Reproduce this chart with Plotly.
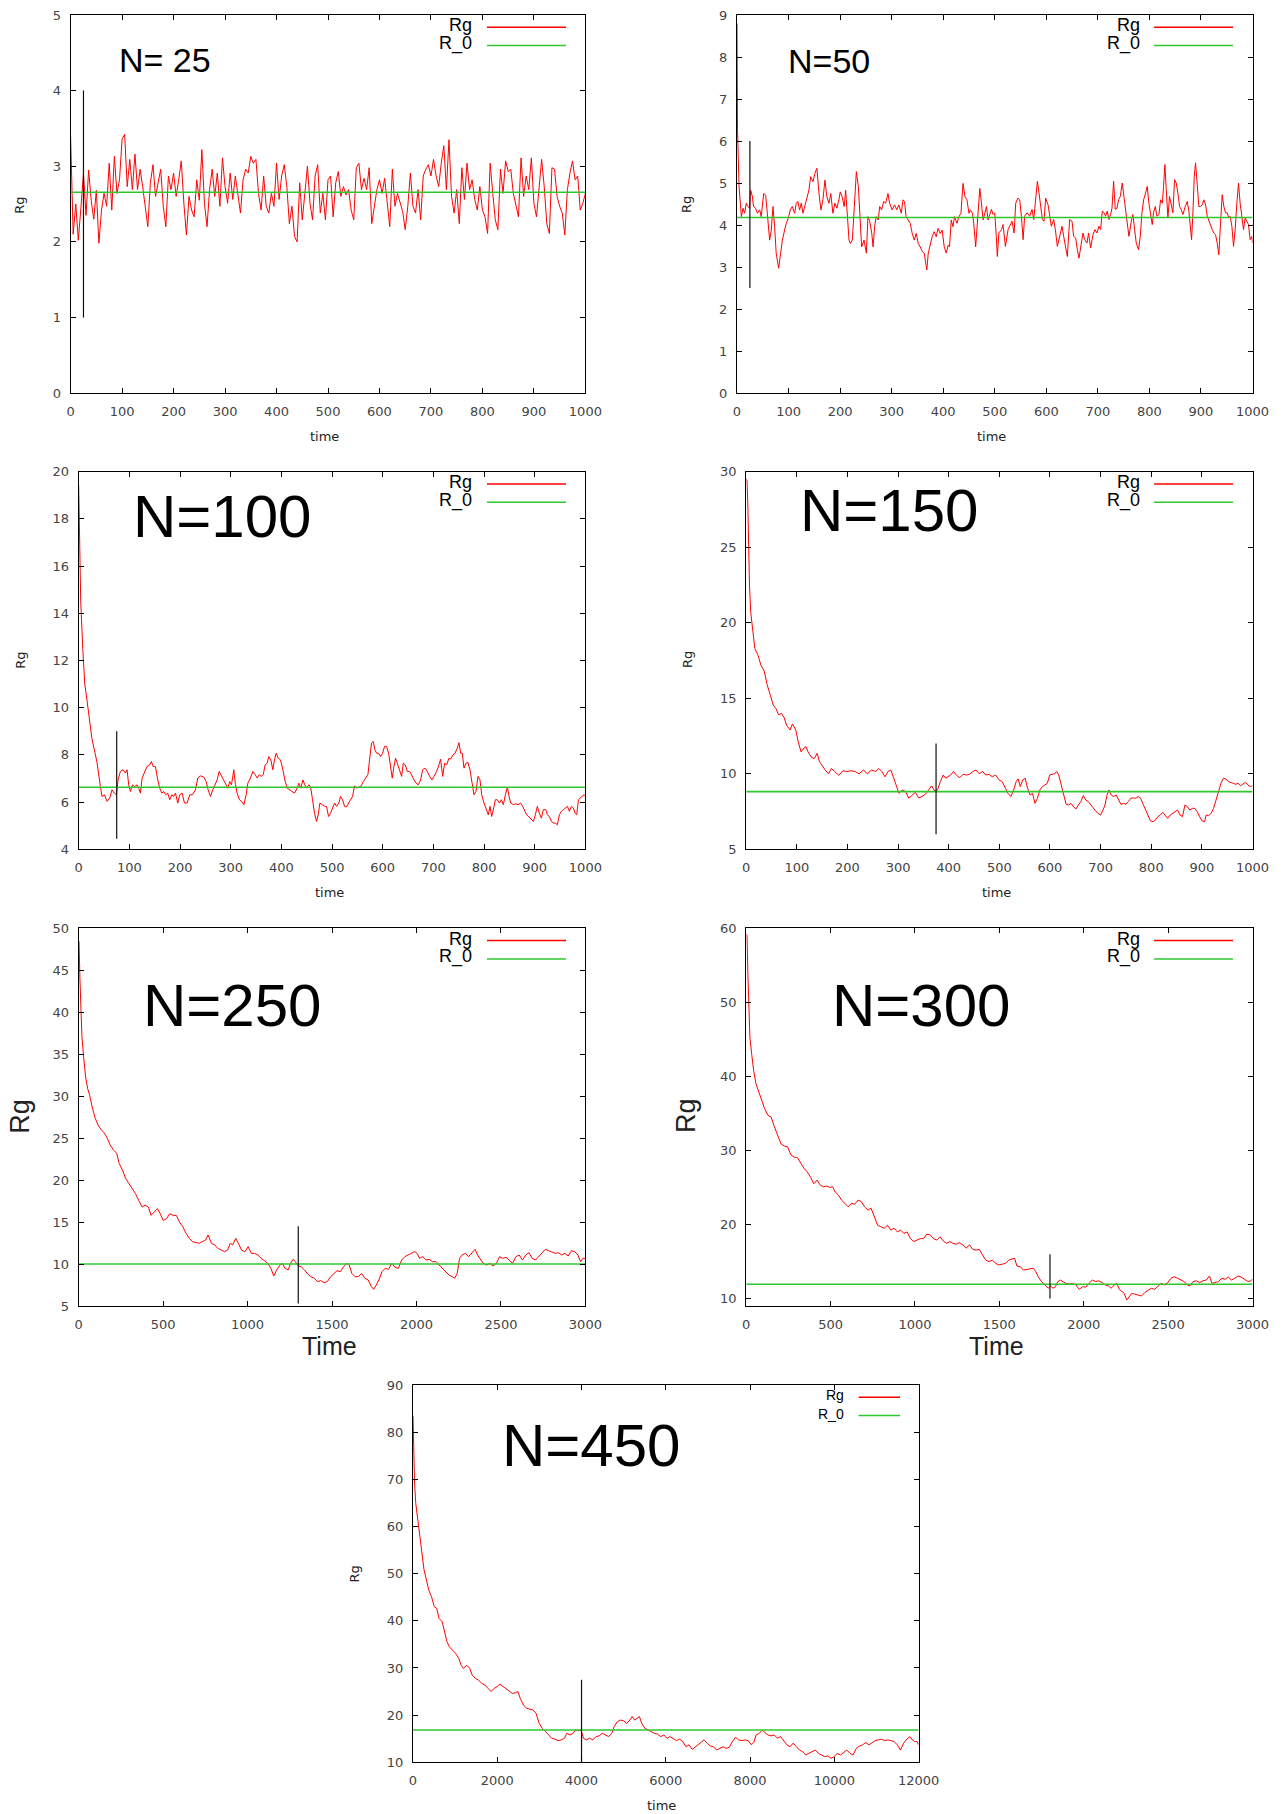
import plotly.graph_objects as go

W, H = 1283, 1814

# ---------------- data ----------------
N_LABELS = ["N= 25", "N=50", "N=100", "N=150", "N=250", "N=300", "N=450"]
X_TITLES = ["time", "time", "time", "time", "Time", "Time", "time"]
T_MAX = [1000, 1000, 1000, 1000, 3000, 3000, 12000]
R0 = [2.655, 4.18, 6.63, 8.82, 10.0, 11.93, 16.86]
EQ_T = [25, 25, 75, 375, 1300, 1800, 4000]
EQ_LO = [1.0, 2.5, 4.45, 6.0, 5.3, 10.0, 10.0]
EQ_HI = [4.0, 6.0, 9.0, 12.0, 14.5, 16.0, 27.5]
Y_MIN = [0, 0, 4, 5, 5, 9, 10]
Y_MAX = [5, 9, 20, 30, 50, 60, 90]
Y_DTICK = [1, 1, 2, 5, 5, 10, 10]
X_DTICK = [100, 100, 100, 100, 500, 500, 2000]

# N=25: Rg sampled every 5 time units, t = 0 ... 1000
RG_N25_STEP = 5
RG_N25 = [
    3.40, 2.10, 2.50, 2.02, 2.45, 2.90, 2.35, 2.95, 2.55, 2.30,
    2.68, 1.98, 2.42, 2.64, 2.47, 3.04, 2.42, 3.13, 2.64, 2.82,
    3.36, 3.42, 2.73, 3.09, 2.69, 3.16, 2.69, 2.96, 2.73, 2.42,
    2.20, 2.78, 3.02, 2.60, 2.80, 2.96, 2.47, 2.20, 2.87, 2.69,
    2.91, 2.60, 2.82, 3.07, 2.51, 2.09, 2.60, 2.42, 2.33, 2.82,
    2.55, 3.22, 2.51, 2.20, 2.69, 2.96, 2.60, 2.91, 2.47, 3.11,
    2.73, 2.51, 2.91, 2.56, 2.87, 2.60, 2.38, 2.82, 2.96, 2.91,
    3.13, 3.04, 3.09, 2.64, 2.42, 2.87, 2.47, 2.38, 2.64, 2.47,
    3.04, 2.56, 2.87, 3.02, 2.73, 2.24, 2.47, 2.07, 2.00, 2.78,
    2.29, 2.64, 3.00, 2.51, 2.29, 2.87, 3.02, 2.38, 2.64, 2.29,
    2.82,
    2.87, 2.33, 2.78, 2.93, 2.60, 2.73, 2.62, 2.69, 2.42, 2.29,
    2.98, 3.04, 2.69, 2.84, 2.69, 2.98, 2.24, 2.47, 2.69, 2.82,
    2.64, 2.84, 2.53, 2.20, 2.96, 2.47, 2.64, 2.51, 2.40, 2.16,
    2.47, 2.91, 2.47, 2.38, 2.69, 2.29, 2.87, 2.96, 3.02, 2.87,
    3.09, 2.87, 2.73, 3.04, 3.27, 2.69, 3.35, 2.60, 2.38, 2.69,
    2.24, 2.98, 2.56, 3.04, 2.69, 2.82, 2.56, 2.42, 2.73, 2.42,
    2.33, 2.11, 3.04, 2.64, 2.29, 2.16, 2.96, 2.64, 3.07, 2.93,
    2.96, 2.64, 2.47, 2.33, 3.11, 2.60, 2.87, 2.69, 3.11, 2.51,
    2.33, 2.69, 3.09, 2.73, 2.24, 2.11, 2.98, 2.96, 2.60, 2.47,
    2.38, 2.09, 2.69, 2.91, 3.07, 2.82, 2.87, 2.42, 2.51, 2.64,
]

# N=50: (time, Rg)
RG_N50 = [
    (0, 8.80), (1, 6.26), (4, 4.91), (6.5, 4.44), (8.5, 4.20), (11.6, 4.40), (14.9, 4.28),
    (18, 4.52), (21, 4.44), (24.5, 4.40), (26.5, 4.83), (30, 4.67), (32, 4.44), (36, 4.40),
    (39.6, 4.28), (44, 4.36), (47, 4.20), (51.7, 4.75), (55.6, 4.71), (58.8, 4.28), (63.3, 3.64),
    (66.5, 3.88), (69.8, 4.44), (73, 3.96), (76, 3.33), (80.8, 2.97), (84, 3.33), (88, 3.64),
    (92.4, 3.88), (95.6, 4.04), (99.5, 4.16), (103.4, 4.36), (107.3, 4.44), (111.8, 4.28),
    (115, 4.52), (118, 4.56), (121.4, 4.36), (124.7, 4.52), (128, 4.28), (131, 4.44),
    (135.7, 4.67), (139.5, 4.83), (142.8, 5.15), (147.3, 5.03), (151, 5.23), (155, 5.35),
    (159, 4.75), (162.8, 4.36), (166.7, 4.60), (170.6, 5.07), (174.4, 4.67), (178.3, 4.52),
    (182, 4.75), (186, 4.28), (190, 4.52), (193.8, 4.40), (197.7, 4.60), (200.3, 4.79),
    (204, 4.67), (208, 4.44), (210.8, 4.83), (213.4, 4.44), (217.3, 3.64), (219.8, 3.56),
    (223.7, 3.64), (227.6, 4.44), (231.5, 5.27), (235.4, 4.91), (238, 4.28), (241.8, 3.48),
    (246.4, 3.64), (251, 3.33), (254, 4.20), (257.5, 4.08), (261.4, 3.80), (264, 3.48),
    (267, 3.96), (270, 4.20), (274, 4.12), (276.8, 4.44), (280.6, 4.36), (284.5, 4.56),
    (288.4, 4.52), (292.9, 4.75), (296, 4.52), (301, 4.36), (305.6, 4.48), (310, 4.36),
    (314, 4.48), (318.7, 4.28), (322, 4.60), (325, 4.56), (328, 4.20), (332, 4.12), (336, 4.04),
    (339.9, 3.80), (343.8, 3.64), (347.7, 3.80), (351.6, 3.56), (355.4, 3.48), (359.3, 3.37),
    (363.2, 3.33), (365.8, 3.09), (368.2, 2.93), (371, 3.33), (374.7, 3.56), (378.6, 3.72),
    (382.5, 3.84), (386.4, 3.72), (390, 3.92), (394, 3.80), (398, 3.88), (402, 3.48),
    (405.8, 3.33), (409.7, 3.52), (412.3, 3.48), (415.6, 4.12), (418.9, 3.96), (422, 4.20),
    (426.7, 4.04), (430.6, 4.20), (434.5, 4.28), (438.4, 4.99), (442.3, 4.67), (446, 4.60),
    (450, 4.28), (452.7, 4.36), (456.6, 4.28), (459.2, 4.04), (463, 3.48), (467.7, 4.44),
    (471, 4.87), (474.2, 4.52), (477.4, 4.12), (480.7, 4.28), (484, 4.44), (487, 4.12),
    (490.6, 4.28), (493.5, 4.37), (496.8, 4.25), (500, 4.29), (503, 3.73), (505, 3.25),
    (508, 3.81), (513, 3.89), (516, 4.01), (520.7, 3.49), (525.8, 3.89), (530, 4.01),
    (533.6, 4.09), (537.5, 3.81), (540.7, 4.52), (545, 4.64), (548.4, 4.60), (551.7, 4.21),
    (555, 3.65), (558, 4.21), (562.6, 4.29), (567.8, 4.21), (572.3, 4.37), (575.6, 4.13),
    (578.8, 4.60), (582.7, 5.04), (585.9, 4.76), (589, 4.44), (592.4, 4.13), (595.6, 4.09),
    (598.8, 4.64), (603.4, 4.48), (606.6, 4.21), (609.8, 3.97), (614.3, 4.13), (617.6, 3.89),
    (621.4, 3.49), (626, 3.77), (630.5, 3.97), (633.7, 3.73), (637.6, 3.41), (640.8, 3.25),
    (645.3, 4.13), (649.9, 4.09), (653, 3.73), (657, 3.69), (660.2, 3.41), (663.4, 3.21),
    (668, 3.57), (671.2, 3.81), (674.4, 3.65), (678.9, 3.57), (682, 3.81), (686, 3.45),
    (690.6, 3.77), (694.4, 3.89), (698.3, 3.81), (702, 3.97), (705.4, 3.89), (708.6, 4.33),
    (712, 4.29), (715, 4.21), (718.3, 4.33), (721.6, 4.13), (724.8, 4.25), (727.4, 4.40),
    (730.6, 5.04), (733.8, 4.37), (737, 4.40), (740.3, 4.60), (743.5, 4.68), (747.4, 5.00),
    (750.6, 4.68), (753.9, 4.37), (757, 3.97), (760.3, 3.73), (764.9, 4.09), (768, 4.25),
    (771.3, 3.89), (774.5, 3.57), (779, 3.41), (782.3, 3.73), (785.5, 4.29), (788.8, 4.60),
    (792.6, 4.76), (795.8, 4.92), (799, 4.52), (802.3, 4.21), (805.5, 4.01), (808, 4.29),
    (811.4, 4.44), (814.6, 4.21), (818.5, 4.25), (821.7, 4.60), (825, 4.52), (827.5, 4.92),
    (830, 5.44), (832.7, 4.84), (835.9, 4.17), (839, 4.68), (842.4, 4.48), (845.6, 4.29),
    (848.8, 5.08), (852, 5.00), (855.3, 4.76), (858.5, 4.44), (861.7, 4.37), (865, 4.25),
    (869.5, 4.44), (873.4, 4.56), (876.6, 4.33), (879.8, 3.77), (881.8, 3.65), (884.4, 4.29),
    (887, 5.16), (889.5, 5.48), (892, 5.08), (896, 4.44), (899.2, 4.44), (902.5, 4.48),
    (905.7, 4.60), (909, 4.48), (912.2, 4.21), (915.4, 4.09), (918.6, 4.01), (921.8, 3.89),
    (925, 3.81), (928.3, 3.77), (931.5, 3.57), (934.7, 3.29), (938, 4.05), (941.2, 4.72),
    (944.4, 4.44), (947.7, 4.29), (950.9, 4.29), (954.1, 4.17), (956.7, 4.21), (960, 3.97),
    (963.2, 3.49), (966.4, 3.89), (969.6, 4.52), (972.9, 5.00), (976, 4.52), (979.3, 4.13),
    (982.6, 3.89), (985.8, 4.17), (989, 4.09), (992.2, 4.01), (995.4, 3.65), (998.7, 3.73),
    (1000, 3.57),
]

# N=100: (time, Rg)
RG_N100 = [
    (0, 19.4), (2, 17.5), (4, 14.5), (8, 12.5), (12, 11.0), (16.5, 10.3), (20, 9.7), (26, 8.7),
    (32, 8.1), (36, 7.7), (42.8, 6.66), (46, 6.24), (50.7, 6.31), (56, 6.03), (61.2, 6.17),
    (65.8, 6.52), (70.4, 6.38), (74.4, 6.31), (77.7, 6.94), (82.3, 7.30), (87.6, 7.37),
    (92.2, 7.23), (95.5, 7.37), (98.7, 6.73), (102, 6.45), (106, 6.73), (110, 6.66),
    (115.2, 6.73), (118.5, 6.59), (121.8, 6.38), (125.1, 7.02), (129.7, 7.23), (135, 7.51),
    (140.2, 7.58), (143.5, 7.72), (146.8, 7.51), (151.4, 7.51), (156, 6.94), (160, 6.59),
    (164, 6.38), (167.9, 6.45), (171.8, 6.31), (175.8, 6.38), (179.7, 6.10), (183.7, 6.31),
    (187.6, 6.24), (190.9, 6.38), (195.5, 5.96), (199.5, 6.31), (204, 6.38), (208.7, 5.96),
    (214, 5.96), (219.2, 6.31), (224.5, 6.31), (230.4, 6.52), (235, 7.02), (240.3, 7.11),
    (246.9, 7.06), (251.5, 6.87), (255.4, 6.52), (260, 6.24), (264.7, 6.52), (269.3, 6.73),
    (273.2, 6.94), (277.2, 7.30), (281.8, 7.09), (286.4, 6.94), (290.3, 6.73), (294.3, 6.59),
    (298.2, 6.87), (301.5, 6.73), (306.1, 7.37), (309.4, 6.73), (312.7, 6.38), (317.3, 6.10),
    (321.3, 6.03), (325.9, 5.89), (330.5, 6.31), (333.8, 6.80), (339, 7.02), (343.6, 7.30),
    (348.3, 7.16), (352.2, 7.02), (356.2, 7.16), (360.1, 7.09), (364.1, 7.16), (368, 7.58),
    (372, 7.65), (375.2, 7.93), (379.2, 7.79), (383.1, 7.37), (386.4, 7.79), (389.7, 8.07),
    (393.7, 7.86), (398.3, 7.79), (402.9, 7.37), (406.8, 6.94), (411.5, 6.59), (416.1, 6.52),
    (421.3, 6.45), (425.9, 6.38), (431.2, 6.59), (434.5, 6.80), (438.4, 6.59), (442.4, 6.94),
    (446.3, 6.73), (449.6, 6.59), (454.2, 6.73), (457.5, 6.66), (461.5, 6.10), (465.4, 5.53),
    (469.4, 5.18), (472.7, 5.46), (476, 5.96), (480.6, 5.89), (485.2, 5.82), (489.1, 5.82),
    (493.1, 5.39), (497, 5.53), (501, 5.75), (505, 5.96), (509, 5.82), (513.5, 5.96),
    (516.8, 6.24), (520.7, 6.10), (524.7, 5.82), (528.6, 5.79), (532.6, 5.96), (536.5, 6.10),
    (540.5, 6.24), (544.4, 6.69), (548.4, 6.59), (553, 6.63), (557.6, 6.69), (561.6, 6.87),
    (566.2, 7.02), (570.8, 7.16), (574.7, 7.93), (578, 8.50), (581.3, 8.57), (584.6, 8.21),
    (587.9, 8.07), (591.8, 8.07), (595.8, 7.93), (599.7, 8.07), (603.7, 8.36), (607.6, 8.36),
    (611.6, 8.07), (615.5, 7.51), (618.8, 7.02), (622.1, 7.51), (625.4, 7.86), (628.7, 7.65),
    (632.7, 7.37), (637.3, 7.09), (640.6, 7.65), (644.5, 7.58), (648.5, 7.30), (653.1, 7.30),
    (657, 7.16), (661.6, 6.94), (666.2, 6.80), (670.2, 6.73), (674.8, 6.94), (678.7, 7.37),
    (683.3, 7.44), (687.9, 7.30), (692.6, 7.09), (697.2, 6.94), (701.1, 7.09), (706.4, 7.30),
    (711, 7.58), (714.3, 7.82), (718.3, 7.09), (722.2, 7.65), (726.1, 7.58), (730.8, 7.86),
    (734, 7.82), (738.6, 8.00), (742.6, 8.07), (747.2, 8.28), (750.5, 8.52), (753.8, 8.07),
    (757.1, 8.07), (760.4, 7.44), (764.3, 7.65), (768.3, 7.68), (772.2, 7.37), (776.2, 6.80),
    (780.1, 6.31), (784.1, 6.45), (788, 7.09), (792, 6.94), (795.3, 6.31), (799.9, 5.96),
    (804.5, 5.68), (808.4, 5.46), (811.7, 5.82), (815, 5.39), (818.3, 5.68), (822.3, 6.10),
    (826.2, 6.10), (830.2, 5.96), (834.1, 6.10), (838.1, 5.89), (842, 6.31), (846, 6.63),
    (849.3, 6.24), (852.5, 5.96), (857.8, 5.89), (862.4, 5.93), (867, 5.89), (872.3, 5.96),
    (876.2, 5.82), (880.2, 5.61), (884.1, 5.46), (888.7, 5.37), (893.3, 5.25), (897.3, 5.18),
    (901.2, 5.46), (905.2, 5.82), (909.1, 5.53), (913.1, 5.32), (917, 5.68), (921.7, 5.68),
    (925, 5.46), (928.9, 5.39), (932.9, 5.18), (936.8, 5.11), (940.8, 5.11), (944.7, 5.04),
    (948.7, 5.46), (952.6, 5.61), (956.6, 5.68), (960.5, 5.75), (964.5, 5.82), (968.4, 5.61),
    (972.3, 5.82), (976.3, 5.75), (979.6, 5.53), (982.9, 5.46), (986.2, 6.10), (989.5, 6.17),
    (993.4, 6.24), (997.4, 6.31), (1000, 6.24),
]

# N=150: (time, Rg)
RG_N150 = [
    (0, 29.5), (1.6, 29.45), (3.2, 27.8), (4.9, 24.7), (6.5, 22.5), (8.9, 20.7), (12.9, 19.4),
    (17, 18.3), (22.7, 17.9), (29, 17.2), (35.6, 16.8), (41.3, 15.9), (47.7, 15.2), (53.4, 14.55),
    (59, 14.3), (64, 13.9), (69.6, 14.0), (75.2, 13.7), (80, 13.2), (86.6, 12.9), (91.4, 13.3),
    (97.9, 12.9), (102.8, 12.1), (108.4, 11.45), (114, 11.7), (118.1, 11.8), (122.2, 11.45),
    (128.6, 11.1), (134.3, 11.0), (140, 11.35), (144.8, 10.8), (150.5, 10.5), (156.1, 10.25),
    (162.6, 10.0), (168.3, 10.35), (174.8, 10.15), (182.8, 9.9), (191, 10.2), (199, 10.15),
    (207, 10.2), (215, 10.15), (223, 10.0), (231.4, 10.25), (239.5, 10.0), (247.6, 10.25),
    (255.7, 10.15), (262, 10.35), (267.8, 10.15), (274.3, 9.8), (280, 10.15), (285.6, 10.25),
    (290.5, 9.8), (296, 9.26), (301.8, 8.7), (308.3, 8.93), (314.7, 8.82), (321.2, 8.38),
    (327.7, 8.6), (334.1, 8.77), (340.6, 8.4), (347, 8.49), (353.6, 8.64), (360, 8.93),
    (366.5, 9.2), (372.2, 8.86), (377.8, 8.93), (383.5, 9.48), (389.2, 9.92), (394, 9.7),
    (398.9, 9.8), (403.7, 9.92), (409.4, 10.15), (415, 9.92), (421.5, 9.74), (428, 9.96),
    (434.5, 9.92), (441, 9.96), (447.4, 10.15), (453.9, 10.25), (460.4, 10.0), (466.8, 10.15),
    (473.3, 9.92), (479.8, 9.96), (486.2, 9.8), (492.7, 9.92), (499.2, 9.6), (505.7, 9.48),
    (512, 9.04), (517, 8.7), (522.7, 8.49), (528.3, 8.93), (533.2, 9.48), (537.2, 9.66),
    (541.3, 9.15), (546.1, 9.6), (551, 9.7), (555.8, 9.04), (560.7, 8.6), (565.5, 8.7),
    (570.4, 8.04), (575.2, 8.38), (580.1, 8.93), (585, 9.15), (589.8, 9.26), (594.7, 9.37),
    (599.5, 9.92), (604.4, 9.96), (609.2, 10.0), (613.3, 10.15), (617.3, 9.92), (622.2, 9.26),
    (627, 8.6), (631.9, 7.98), (636.7, 7.93), (641.6, 8.04), (646.4, 7.82), (651.3, 7.67),
    (656.1, 7.93), (661, 8.16), (665.9, 8.55), (670.7, 8.27), (675.6, 8.16), (680.4, 7.93),
    (685.3, 7.76), (690.1, 7.54), (695, 7.38), (699.8, 7.27), (704.7, 7.6), (708.7, 7.93),
    (712.8, 8.6), (716.8, 8.93), (720.9, 8.6), (725.7, 8.49), (730.6, 8.6), (735.4, 8.27),
    (740.3, 7.98), (745.1, 8.04), (750, 7.98), (754.9, 8.16), (759.7, 8.38), (764.6, 8.4),
    (769.4, 8.38), (774.3, 8.49), (779.1, 8.38), (784, 7.98), (788.8, 7.6), (793.7, 7.16),
    (798.5, 6.88), (803.4, 6.83), (808.3, 6.94), (813.1, 7.16), (818, 7.27), (822.8, 7.45),
    (827.7, 7.27), (832.5, 7.05), (837.4, 7.27), (842.2, 7.38), (847.1, 7.45), (851.9, 7.6),
    (856.8, 7.27), (861.7, 7.16), (866.5, 7.93), (871.4, 7.82), (876.2, 7.6), (881.1, 7.71),
    (885.9, 7.71), (890.8, 7.49), (895.6, 7.16), (900.5, 6.88), (905.3, 6.83), (908.6, 7.27),
    (913.4, 7.23), (918.3, 7.38), (923.1, 7.71), (928, 8.27), (932.8, 8.93), (937.7, 9.37),
    (942.6, 9.7), (947.4, 9.66), (952.3, 9.48), (957.1, 9.44), (962, 9.37), (966.8, 9.3),
    (971.7, 9.37), (976.5, 9.21), (981.4, 9.3), (986.2, 9.44), (991.1, 9.26), (995.9, 9.15),
    (1000, 9.21),
]

# N=250: (time, Rg)
RG_N250 = [
    (0, 48.5), (2, 48.4), (7, 44.2), (12, 40.3), (19, 37.1), (29, 34.7), (41, 32.3), (53, 30.9),
    (65, 30.1), (80, 28.7), (97, 27.4), (114, 26.6), (133, 26.0), (152, 25.6), (169, 25.0),
    (186, 24.2), (205, 23.6), (225, 23.2), (239, 22.0), (259, 21.2), (278, 20.2), (297, 19.6),
    (317, 19.0), (336, 18.4), (355, 17.6), (375, 16.8), (394, 17.0), (413, 16.8), (428, 15.8),
    (447, 16.2), (466, 16.6), (483, 16.0), (500, 15.2), (520, 15.4), (539, 16.0), (558, 15.8),
    (578, 15.8), (597, 15.0), (616, 14.45), (636, 13.65), (655, 13.06), (674, 12.66),
    (694, 12.55), (713, 12.47), (732, 12.66), (752, 12.86), (766, 13.46), (786, 12.47),
    (805, 12.27), (824, 11.87), (844, 11.67), (863, 11.47), (882, 11.67), (897, 12.47),
    (911, 12.27), (930, 13.06), (945, 12.47), (964, 11.67), (984, 11.47), (1003, 12.07),
    (1022, 11.27), (1042, 11.27), (1061, 11.08), (1080, 10.68), (1100, 10.40), (1119, 10.08),
    (1138, 9.49), (1155, 8.57), (1172, 9.29), (1192, 9.88), (1206, 10.08), (1221, 9.49),
    (1240, 9.29), (1254, 10.08), (1269, 10.56), (1283, 10.28), (1300, 9.77), (1317, 9.69),
    (1337, 9.29), (1356, 8.81), (1375, 8.49), (1395, 8.30), (1414, 7.90), (1433, 8.02),
    (1453, 7.78), (1472, 7.90), (1491, 8.49), (1511, 8.89), (1530, 9.21), (1549, 9.09),
    (1569, 9.69), (1588, 10.08), (1602, 9.88), (1617, 8.89), (1636, 8.49), (1656, 8.49),
    (1675, 8.89), (1694, 8.30), (1714, 8.10), (1733, 7.30), (1747, 6.99), (1762, 7.50),
    (1777, 8.10), (1796, 9.09), (1815, 9.49), (1834, 9.37), (1854, 10.08), (1873, 9.61),
    (1893, 9.49), (1912, 10.48), (1931, 10.88), (1950, 11.08), (1970, 11.27), (1989, 11.47),
    (2004, 11.27), (2018, 10.68), (2037, 10.88), (2057, 10.48), (2076, 10.56), (2095, 10.28),
    (2115, 10.28), (2134, 9.88), (2154, 9.49), (2173, 9.09), (2192, 8.69), (2212, 8.49),
    (2226, 8.30), (2241, 8.89), (2255, 10.68), (2270, 11.08), (2289, 11.27), (2308, 10.88),
    (2328, 11.27), (2347, 11.75), (2361, 11.08), (2376, 10.68), (2395, 10.08), (2415, 9.88),
    (2434, 10.08), (2453, 9.77), (2473, 10.08), (2492, 10.88), (2511, 10.68), (2531, 10.80),
    (2550, 10.48), (2569, 10.08), (2589, 10.88), (2608, 11.08), (2627, 10.48), (2647, 11.08),
    (2666, 11.35), (2685, 10.68), (2705, 10.48), (2724, 10.88), (2743, 11.27), (2763, 11.75),
    (2782, 11.59), (2801, 11.47), (2821, 11.27), (2840, 11.35), (2859, 11.08), (2879, 11.27),
    (2898, 10.96), (2917, 11.59), (2937, 11.47), (2956, 11.08), (2971, 10.28), (2985, 10.68),
    (3000, 10.68),
]

# N=300: (time, Rg)
RG_N300 = [
    (0, 59.2), (5, 59.0), (10, 53.8), (15, 49.8), (22, 45.3), (32, 43.1), (44, 40.8), (58, 39.0),
    (75, 37.9), (92, 36.8), (109, 35.65), (129, 34.75), (148, 34.5), (167, 33.2), (187, 32.1),
    (206, 30.9), (226, 30.6), (245, 30.5), (265, 29.4), (284, 29.1), (303, 29.05), (323, 28.2),
    (342, 27.6), (362, 27.1), (381, 26.4), (400, 25.5), (420, 26.0), (439, 25.3), (459, 25.1),
    (478, 25.2), (498, 25.0), (512, 25.1), (527, 24.4), (546, 24.0), (565, 23.3), (585, 22.85),
    (604, 22.4), (624, 22.85), (643, 22.75), (663, 23.3), (682, 23.1), (701, 22.4), (721, 21.95),
    (740, 22.2), (760, 21.05), (779, 19.9), (798, 19.7), (818, 19.5), (837, 19.9), (857, 19.25),
    (876, 19.5), (896, 19.0), (915, 19.25), (934, 18.8), (954, 19.0), (973, 18.1), (993, 17.7),
    (1012, 17.9), (1031, 18.1), (1051, 18.1), (1070, 18.7), (1090, 18.6), (1109, 18.1),
    (1129, 17.9), (1148, 18.35), (1167, 17.8), (1187, 17.45), (1206, 17.7), (1226, 17.45),
    (1245, 17.35), (1264, 17.55), (1284, 17.25), (1303, 16.8), (1323, 17.25), (1342, 16.65),
    (1362, 16.55), (1381, 16.65), (1400, 15.9), (1420, 15.2), (1439, 15.0), (1459, 15.2),
    (1478, 14.75), (1497, 14.55), (1517, 14.65), (1536, 14.75), (1556, 15.2), (1575, 15.3),
    (1590, 15.45), (1604, 14.4), (1624, 14.3), (1643, 13.85), (1662, 13.95), (1682, 14.1),
    (1701, 14.1), (1716, 13.65), (1730, 12.95), (1750, 12.3), (1769, 11.85), (1789, 11.4),
    (1803, 11.7), (1818, 11.4), (1832, 11.6), (1847, 12.3), (1862, 12.5), (1876, 12.3),
    (1895, 12.05), (1915, 11.95), (1934, 12.05), (1954, 11.85), (1973, 11.25), (1993, 11.6),
    (2012, 11.55), (2031, 12.05), (2051, 12.5), (2070, 12.3), (2090, 12.4), (2109, 12.15),
    (2128, 11.85), (2148, 11.7), (2162, 11.4), (2182, 11.85), (2196, 12.05), (2211, 11.25),
    (2226, 10.95), (2240, 10.7), (2255, 9.8), (2269, 10.25), (2284, 10.7), (2303, 10.6),
    (2323, 10.5), (2342, 10.35), (2361, 10.8), (2381, 11.15), (2400, 11.4), (2420, 11.25),
    (2439, 11.7), (2459, 12.05), (2478, 11.85), (2497, 12.15), (2517, 12.75), (2536, 12.95),
    (2556, 12.75), (2575, 12.5), (2594, 12.3), (2614, 11.85), (2628, 11.7), (2648, 12.3),
    (2667, 12.4), (2687, 12.15), (2706, 12.4), (2726, 12.5), (2745, 13.05), (2760, 12.05),
    (2779, 12.15), (2798, 12.3), (2818, 12.75), (2837, 12.6), (2857, 12.9), (2876, 12.5),
    (2895, 12.75), (2915, 13.05), (2934, 12.9), (2953, 12.6), (2973, 12.3), (2988, 12.4),
    (3000, 12.6),
]

# N=450: (time, Rg)
RG_N450 = [
    (0, 83.5), (19, 75.5), (37, 69.2), (66, 64.9), (112, 61.4), (159, 58.6), (206, 55.0),
    (262, 50.8), (318, 48.7), (374, 46.5), (440, 45.1), (505, 43.0), (562, 42.65), (618, 40.5),
    (693, 39.8), (749, 37.35), (805, 35.6), (861, 34.5), (936, 33.8), (1011, 33.1), (1086, 32.05),
    (1142, 30.6), (1198, 29.9), (1273, 30.6), (1348, 29.9), (1404, 28.5), (1479, 27.8),
    (1554, 27.45), (1629, 26.75), (1704, 26.4), (1778, 25.7), (1853, 25.0), (1928, 25.7),
    (2003, 26.05), (2059, 26.6), (2134, 26.05), (2209, 25.5), (2284, 25.0), (2359, 24.6),
    (2434, 24.75), (2490, 25.0), (2546, 23.55), (2621, 22.15), (2696, 21.45), (2771, 21.25),
    (2845, 21.1), (2920, 20.4), (2995, 18.25), (3070, 17.2), (3145, 16.5), (3220, 15.8),
    (3295, 15.1), (3370, 14.9), (3444, 14.6), (3519, 14.75), (3594, 15.1), (3650, 16.15),
    (3725, 15.8), (3800, 16.15), (3856, 16.85), (3931, 16.7), (3987, 16.85), (4044, 15.1),
    (4118, 14.75), (4193, 15.1), (4268, 14.75), (4343, 15.45), (4418, 15.6), (4493, 16.15),
    (4568, 15.8), (4643, 15.45), (4717, 16.15), (4774, 17.55), (4849, 18.6), (4923, 18.95),
    (4998, 18.8), (5073, 18.25), (5148, 18.95), (5204, 19.7), (5260, 18.95), (5316, 19.3),
    (5373, 19.7), (5429, 18.25), (5504, 17.2), (5579, 16.85), (5653, 16.5), (5728, 16.15),
    (5803, 16.0), (5878, 15.45), (5953, 15.8), (6028, 15.1), (6103, 15.45), (6178, 15.1),
    (6253, 14.6), (6327, 14.9), (6402, 14.4), (6477, 13.3), (6552, 13.7), (6627, 12.75),
    (6702, 13.3), (6777, 13.7), (6851, 14.4), (6908, 14.75), (6983, 14.05), (7057, 13.45),
    (7132, 13.3), (7207, 12.6), (7282, 12.95), (7357, 13.3), (7432, 12.95), (7507, 13.2),
    (7582, 14.4), (7656, 15.3), (7731, 14.75), (7806, 14.6), (7881, 14.75), (7956, 14.6),
    (8031, 13.7), (8087, 14.2), (8143, 15.8), (8218, 16.15), (8293, 16.85), (8349, 16.3),
    (8424, 15.8), (8499, 15.6), (8574, 15.8), (8649, 15.1), (8724, 15.45), (8798, 14.6),
    (8873, 13.7), (8948, 13.3), (9023, 14.05), (9098, 13.3), (9173, 12.6), (9248, 12.25),
    (9323, 11.55), (9398, 11.9), (9472, 12.25), (9547, 12.6), (9622, 11.9), (9697, 11.55),
    (9772, 11.2), (9847, 11.35), (9922, 10.85), (9996, 11.2), (10071, 11.9), (10146, 11.55),
    (10221, 12.05), (10296, 12.6), (10371, 11.9), (10446, 11.55), (10521, 12.95), (10596, 13.45),
    (10671, 13.7), (10745, 14.2), (10820, 13.7), (10895, 14.2), (10970, 14.6), (11045, 14.75),
    (11120, 14.9), (11195, 14.6), (11270, 14.75), (11345, 14.6), (11419, 14.4), (11494, 13.7),
    (11569, 12.6), (11644, 14.05), (11719, 14.9), (11794, 15.45), (11850, 14.75), (11906, 14.4),
    (11962, 14.4), (12000, 13.7),
]

# ---------------- layout (pixel boxes of the plot areas) ----------------
BOX = [
    (70.6, 15.0, 585.4, 393.0),
    (737.0, 15.0, 1252.5, 393.0),
    (78.7, 471.7, 585.4, 849.3),
    (746.2, 471.7, 1252.5, 849.3),
    (78.7, 928.3, 585.4, 1306.0),
    (746.2, 928.3, 1252.5, 1306.0),
    (413.0, 1385.0, 918.6, 1762.3),
]
N_POS = [(165, 60, 34), (829, 61, 34), (222, 516, 60), (889, 511, 60),
         (232, 1005, 60), (921, 1005, 60), (591, 1445, 60)]
YLAB = [(19.7, 205, 13), (687, 205, 13), (19.7, 660, 13), (687, 660, 13),
        (19.7, 1116, 27), (686, 1116, 27), (354, 1574.5, 13)]
XLAB = [(324, 436, 13), (991.5, 436, 13), (329.7, 892, 13), (996, 892, 13),
        (329.7, 1345.5, 25), (996, 1345.5, 25), (661.7, 1805, 13)]

RED = "#ff0000"
GREEN = "#2ec82e"
TICKCOL = "#444444"


def fx(x):
    return x / W


def fy(y):
    return 1 - y / H


series = []
t25 = [i * RG_N25_STEP for i in range(len(RG_N25))]
series.append((t25, RG_N25))
for pts in (RG_N50, RG_N100, RG_N150, RG_N250, RG_N300, RG_N450):
    series.append(([p[0] for p in pts], [p[1] for p in pts]))

fig = go.Figure()
annotations = []
shapes = []
layout = {}

for i in range(7):
    n = i + 1
    xa = "x" if n == 1 else f"x{n}"
    ya = "y" if n == 1 else f"y{n}"
    x0, y0, x1, y1 = BOX[i]
    tx, ty = series[i]

    fig.add_trace(go.Scatter(x=tx, y=ty, mode="lines", line=dict(color=RED, width=1),
                             xaxis=xa, yaxis=ya, name="Rg", showlegend=False))
    fig.add_trace(go.Scatter(x=[0, T_MAX[i]], y=[R0[i], R0[i]], mode="lines",
                             line=dict(color=GREEN, width=1.6), xaxis=xa, yaxis=ya,
                             name="R_0", showlegend=False))
    fig.add_trace(go.Scatter(x=[EQ_T[i], EQ_T[i]], y=[EQ_LO[i], EQ_HI[i]], mode="lines",
                             line=dict(color="#111111", width=1.2), xaxis=xa, yaxis=ya,
                             showlegend=False))

    axis_common = dict(showline=True, linecolor="black", linewidth=1, mirror="ticks",
                       ticks="inside", ticklen=5, tickcolor="black", showgrid=False,
                       zeroline=False, tickformat="d", automargin=False,
                       tickfont=dict(family="DejaVu Sans", size=13, color=TICKCOL))
    layout["xaxis" if n == 1 else f"xaxis{n}"] = dict(
        domain=[fx(x0), fx(x1)], anchor=ya, range=[0, T_MAX[i]], tick0=0, dtick=X_DTICK[i],
        ticklabelstandoff=6, **axis_common)
    layout["yaxis" if n == 1 else f"yaxis{n}"] = dict(
        domain=[fy(y1), fy(y0)], anchor=xa, range=[Y_MIN[i], Y_MAX[i]], tick0=0,
        dtick=Y_DTICK[i], ticklabelstandoff=6, **axis_common)

    # big N label
    cx, cy, fs = N_POS[i]
    annotations.append(dict(x=fx(cx), y=fy(cy), xref="paper", yref="paper", text=N_LABELS[i],
                            showarrow=False, xanchor="center", yanchor="middle",
                            font=dict(family="Liberation Sans", size=fs, color="black")))
    # axis labels
    lx, ly, lfs = YLAB[i]
    fam = "Liberation Sans" if lfs > 20 else "DejaVu Sans"
    annotations.append(dict(x=fx(lx), y=fy(ly), xref="paper", yref="paper", text="Rg",
                            textangle=-90, showarrow=False, xanchor="center", yanchor="middle",
                            font=dict(family=fam, size=lfs, color="#222222")))
    bx, by, bfs = XLAB[i]
    fam = "Liberation Sans" if bfs > 20 else "DejaVu Sans"
    annotations.append(dict(x=fx(bx), y=fy(by), xref="paper", yref="paper", text=X_TITLES[i],
                            showarrow=False, xanchor="center", yanchor="middle",
                            font=dict(family=fam, size=bfs, color="#222222")))

    # key (legend) in the top-right corner
    if i < 6:
        txt_r, ln_a, ln_b, kfs = 111.0, 98.4, 19.4, 18
    else:
        txt_r, ln_a, ln_b, kfs = 72.6, 60.0, 18.6, 14
    for k, (lab, col, dy) in enumerate((("Rg", RED, 12.3), ("R_0", GREEN, 30.6))):
        annotations.append(dict(x=fx(x1 - txt_r), y=fy(y0 + dy - 2), xref="paper", yref="paper",
                                text=lab, showarrow=False, xanchor="right", yanchor="middle",
                                font=dict(family="Liberation Sans", size=kfs, color="black")))
        shapes.append(dict(type="line", xref="paper", yref="paper",
                           x0=fx(x1 - ln_a), x1=fx(x1 - ln_b), y0=fy(y0 + dy), y1=fy(y0 + dy),
                           line=dict(color=col, width=1.5)))

fig.update_layout(width=W, height=H,
                  margin=dict(l=0, r=0, t=0, b=0, pad=0, autoexpand=False),
                  paper_bgcolor="white", plot_bgcolor="white", showlegend=False,
                  annotations=annotations, shapes=shapes, **layout)

fig.write_html("out.html")
